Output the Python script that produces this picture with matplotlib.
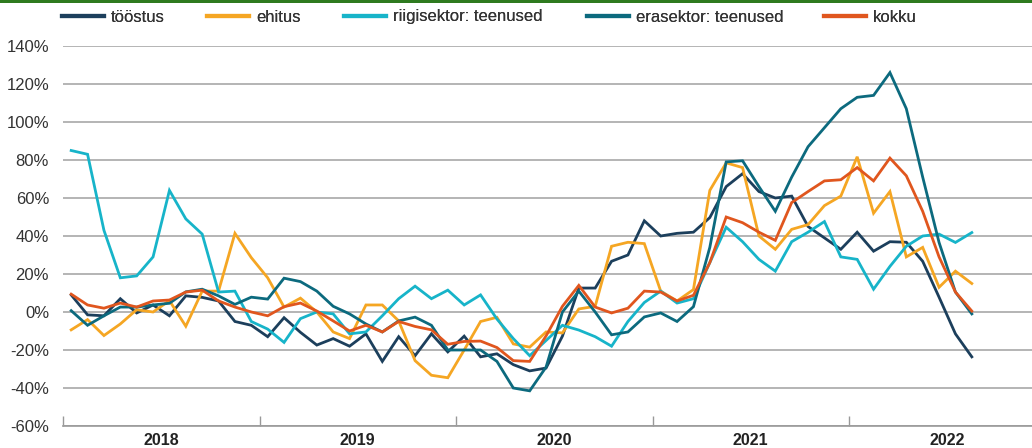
import matplotlib
matplotlib.use("Agg")
import matplotlib.pyplot as plt
from matplotlib.ticker import FixedLocator, FuncFormatter
from matplotlib.patches import Rectangle

plt.rcParams['font.family'] = ['Liberation Sans', 'DejaVu Sans']

# Monthly data, Jan 2018 .. Aug 2022 (percent)
months = list(range(56))
years = ["2018", "2019", "2020", "2021", "2022"]

toostus = [9, -1.5, -2, 7, -0.5, 3.7, -2, 8.5, 7.7, 5.8, -5, -7, -13, -3, -10.7, -17.4,
           -14, -18, -11.5, -26, -13, -23, -11.5, -21, -12.7, -23.6, -22, -27.7, -31, -29.5,
           -12.7, 12.6, 12.6, 26.7, 30, 48, 40, 41.4, 42, 49.7, 66, 72.8, 63.4, 60, 61, 45,
           39, 33, 42, 32, 37, 36.7, 26.7, 7.8, -11.5, -23.6]
ehitus = [-9.4, -4, -12.4, -6.3, 1.2, 0, 6, -7.5, 11, 11, 41.4, 28.6, 18, 2.6, 7.3, 0,
          -10.5, -14, 3.7, 3.7, -4.7, -25.6, -33.3, -34.6, -20, -5, -2.8, -16.8, -18.5, -10.5,
          -11, 1.6, 3, 34.6, 36.7, 36, 11, 5.8, 11.8, 64, 78.5, 76, 40, 33, 43.5, 46,
          56, 61, 81.7, 52, 63.4, 29, 34, 13, 21.5, 15]
riigisektor = [85, 83, 43, 18, 19, 29, 64, 49, 41, 10.5, 11, -5, -9, -16, -3.5, 0,
               -1, -11.5, -10.5, -2, 7, 13.6, 7, 11.5, 3.7, 9, -3.7, -14, -23, -15,
               -7, -9.5, -13, -18, -5, 5, 11, 4.7, 7, 26, 44.6, 37, 27.7, 21.5, 37, 42,
               47.6, 29, 27.7, 12, 24, 34.6, 40, 41, 36.6, 41.8]
erasektor = [0.7, -7, -2, 2.6, 2.6, 3.7, 4.6, 10.6, 12, 8.5, 4, 7.8, 6.8, 17.8, 16, 11,
             3, -1, -6.3, -10.5, -4.7, -2.7, -7, -20, -20, -20, -26, -40, -41.5, -29,
             0, 11, 0, -12, -10.5, -2.6, -0.5, -5, 2.8, 34, 79, 79.6, 66, 53, 71, 87,
             97, 107, 113, 114, 126, 107, 71, 36.6, 10.5, -1]
kokku = [9.4, 3.7, 2, 4.7, 2.6, 5.8, 6.3, 10.5, 11.5, 5.8, 2.6, 0, -2, 2.8, 4.7, 0.5,
         -4.7, -10, -7, -10.5, -5, -7.6, -9.4, -17, -15.5, -15.3, -18.7, -25.6, -26, -12.6,
         3, 14, 2.6, -0.5, 2, 11, 10.5, 5.8, 8.8, 26, 50, 47, 42, 37.7, 57.6, 63.4,
         69, 69.6, 76, 69, 81, 71.7, 53, 29, 10.5, 0.5]

series = [
    ("tööstus", toostus, "#1c3f5c"),
    ("ehitus", ehitus, "#f5a623"),
    ("riigisektor: teenused", riigisektor, "#17b4c9"),
    ("erasektor: teenused", erasektor, "#0c6a7e"),
    ("kokku", kokku, "#e0561e"),
]

W, H = 1032, 448
fig = plt.figure(figsize=(W / 100, H / 100), dpi=100)
left_px, right_px, top_px, bot_px = 63, 1032, 46, 426
ax = fig.add_axes([left_px / W, 1 - bot_px / H, (right_px - left_px) / W, (bot_px - top_px) / H])

lines = []
for name, vals, col in series:
    ln, = ax.plot(months, vals, color=col, lw=2.0, label=name, solid_joinstyle='miter', zorder=3)
    lines.append(ln)

px_per_month = 16.375
ax.set_xlim(-0.5, -0.5 + (right_px - left_px) / px_per_month)
ax.set_ylim(-60, 140)

ax.yaxis.set_major_locator(FixedLocator(list(range(-60, 141, 20))))
ax.yaxis.set_major_formatter(FuncFormatter(lambda v, p: f"{int(v)}%"))
ax.grid(axis='y', color='#b4b4b4', lw=1.4, zorder=0)
ax.tick_params(axis='y', length=0, pad=10, labelsize=12, labelcolor='#333333')

ax.xaxis.set_major_locator(FixedLocator([-0.5, 11.5, 23.5, 35.5, 47.5]))
ax.xaxis.set_major_formatter(FuncFormatter(lambda v, p: ""))
ax.xaxis.set_minor_locator(FixedLocator([5.5, 17.5, 29.5, 41.5, 53.5]))
ax.set_xticklabels(years, minor=True)
ax.tick_params(axis='x', which='major', direction='in', length=7, width=1, color='#999999')
ax.tick_params(axis='x', which='minor', length=0, pad=5, labelsize=11.5)
for lbl in ax.get_xticklabels(minor=True):
    lbl.set_fontweight('bold')
    lbl.set_color('#222222')

for s in ['left', 'right', 'top']:
    ax.spines[s].set_visible(False)
ax.spines['bottom'].set_color('#999999')
ax.spines['bottom'].set_linewidth(1.2)

# legend: one entry per position, as in the reference
legend_x = [62, 207, 344, 587, 824]
for ln, xpx in zip(lines, legend_x):
    leg = fig.legend(handles=[ln], loc='center left', bbox_to_anchor=(xpx / W, 1 - 17 / H),
                     frameon=False, fontsize=12, handlelength=2.5, handletextpad=0.45,
                     borderaxespad=0, borderpad=0)
    for l in leg.get_lines():
        l.set_linewidth(3)
    for t in leg.get_texts():
        t.set_color('#333333')
    fig.add_artist(leg)

fig.add_artist(Rectangle((0, 1 - 3 / H), 1, 3 / H, transform=fig.transFigure,
                         color='#2e7a1f', lw=0))

fig.savefig("out.png", dpi=100)
